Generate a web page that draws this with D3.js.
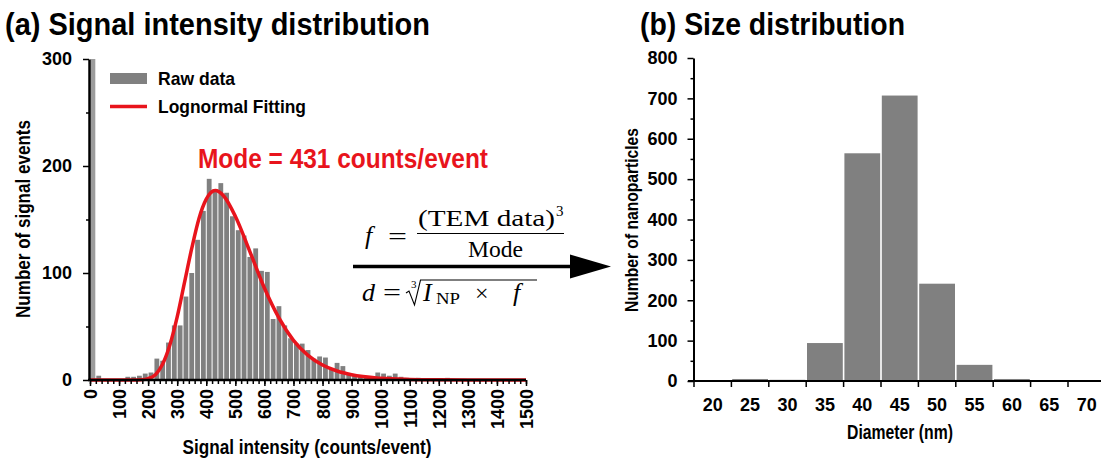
<!DOCTYPE html>
<html>
<head>
<meta charset="utf-8">
<script src="https://cdn.jsdelivr.net/npm/d3@7"></script>
<style>
  body { margin: 0; background: #fff; }
  svg { display: block; }
  text { font-family: 'Liberation Sans Narrow', 'Arial Narrow', 'Liberation Sans', Arial, sans-serif; font-weight: bold; fill: #000; }
  .tick text { font-size: 18px; }
  .title { font-size: 32px; }
  .axis-title { font-size: 19.5px; }
  .legend text { font-size: 19px; }
  .math text { font-family: 'Liberation Serif', 'Times New Roman', serif; font-weight: normal; }
</style>
</head>
<body>
<svg id="fig" width="1101" height="466"></svg>
<script>
// ---- Panel (a): signal intensity histogram (bins of 20 counts/event) ----
const intensityBinWidth = 20;
const intensityCounts = [
  300, 4, 0, 0, 0, 1, 3, 3, 4, 6,
  7, 20, 18, 35, 51, 51, 78, 100, 131, 158,
  188, 178, 184, 175, 153, 140, 135, 115, 123, 102,
  101, 57, 69, 51, 39, 34, 34, 28, 20, 22,
  21, 10, 16, 13, 6, 5, 4, 3, 2, 7,
  6, 4, 6, 3, 2, 1, 2, 1, 1, 1,
  1, 2, 1, 0, 1, 0, 0, 1, 0, 0,
  0, 0, 0, 0, 0
];
// Lognormal fitting curve, sampled along the intensity axis
const fitIntensity = [0, 100, 150, 175, 200, 225, 250, 275, 300, 325, 350, 375, 400, 431, 460, 500, 550, 600, 650, 700, 750, 800, 850, 900, 1000, 1100, 1200, 1300, 1500];
const fitCounts    = [0, 0, 0, 0.2, 1.3, 5, 15, 33, 59, 91, 123, 151, 169, 177, 172, 153, 120, 86, 58, 37, 23, 14, 8.4, 4.9, 1.6, 0.5, 0.15, 0.05, 0];
const modeValue = 431;
const intensityTicks = [0, 100, 200, 300, 400, 500, 600, 700, 800, 900, 1000, 1100, 1200, 1300, 1400, 1500];
const eventTicks = [0, 100, 200, 300];
const eventMinorTicks = [50, 150, 250];

// ---- Panel (b): TEM size distribution ----
const diameterLabels = ["20", "25", "30", "35", "40", "45", "50", "55", "60", "65", "70"];
const particleCounts = [0, 5, 3, 94, 564, 707, 241, 40, 5, 0, 0];
const particleTicks = [0, 100, 200, 300, 400, 500, 600, 700, 800];
const particleMinorTicks = [50, 150, 250, 350, 450, 550, 650, 750];

const GREY = "#808080";
const RED = "#e8141c";

const svg = d3.select("#fig");

function styleAxis(g, domainWidth) {
  g.attr("font-family", null).attr("font-size", null);
  g.select(".domain").attr("stroke", "#000").attr("stroke-width", domainWidth);
  g.selectAll(".tick line").attr("stroke", "#000").attr("stroke-width", 1.5);
}
// squeeze a bold sans label into a condensed run of the given width
function fit(sel, width) {
  return sel.attr("textLength", width).attr("lengthAdjust", "spacingAndGlyphs");
}

// ================= Panel (a) =================
const xA = d3.scaleLinear().domain([0, 1500]).range([90, 526]);
const yA = d3.scaleLinear().domain([0, 300]).range([380, 59]);
const binPx = xA(intensityBinWidth) - xA(0);

const gA = svg.append("g");

gA.append("g").selectAll("rect")
  .data(intensityCounts)
  .join("rect")
  .attr("x", (d, i) => xA(i * intensityBinWidth) + 0.5)
  .attr("width", binPx - 1)
  .attr("y", d => yA(Math.min(d, 300)))
  .attr("height", d => yA(0) - yA(Math.min(d, 300)))
  .attr("fill", (d, i) => i === 0 ? "#9c9c9c" : GREY);

// fitted curve
gA.append("path")
  .datum(fitIntensity.map((x, i) => [x, fitCounts[i]]))
  .attr("fill", "none")
  .attr("stroke", RED)
  .attr("stroke-width", 3.5)
  .attr("stroke-linejoin", "round")
  .attr("d", d3.line().x(d => xA(d[0])).y(d => yA(d[1])).curve(d3.curveMonotoneX));

// y axis
gA.append("g").attr("transform", "translate(89,0)")
  .call(d3.axisLeft(yA).tickValues(eventMinorTicks).tickSize(3).tickSizeOuter(0).tickFormat(""))
  .call(g => { styleAxis(g, 2); g.select(".domain").remove(); });
gA.append("g").attr("transform", "translate(89,0)")
  .call(d3.axisLeft(yA).tickValues(eventTicks).tickSize(6).tickSizeOuter(0).tickPadding(11))
  .call(g => styleAxis(g, 2.5));

// x axis
const minorIntensity = d3.range(0, 1501, intensityBinWidth);
gA.append("g").attr("transform", "translate(0,380)")
  .call(d3.axisBottom(xA).tickValues(minorIntensity).tickSize(4).tickSizeOuter(0).tickFormat(""))
  .call(g => { styleAxis(g, 2); g.select(".domain").remove(); });
gA.append("g").attr("transform", "translate(0,380)")
  .call(d3.axisBottom(xA).tickValues(intensityTicks).tickSize(6).tickSizeOuter(0).tickFormat(d3.format("d")))
  .call(g => {
    styleAxis(g, 2.5);
    g.select(".domain").attr("d", `M88,0H${xA(1500)}`);
    g.selectAll(".tick text")
      .attr("transform", "rotate(-90)")
      .attr("x", -9).attr("y", 0).attr("dy", "0.36em")
      .attr("text-anchor", "end")
      .style("font-size", "18px");
  });

fit(gA.append("text").attr("class", "axis-title")
  .attr("transform", "translate(30,219) rotate(-90)")
  .attr("text-anchor", "middle")
  .text("Number of signal events"), 198);
fit(gA.append("text").attr("class", "axis-title")
  .attr("x", 307).attr("y", 454).attr("text-anchor", "middle")
  .text("Signal intensity (counts/event)"), 249);

fit(gA.append("text").attr("class", "title").attr("x", 5).attr("y", 35)
  .text("(a) Signal intensity distribution"), 425);

// legend
const leg = gA.append("g").attr("class", "legend");
leg.append("rect").attr("x", 110).attr("y", 73).attr("width", 37).attr("height", 11).attr("fill", GREY);
fit(leg.append("text").attr("x", 158).attr("y", 85).text("Raw data"), 77);
leg.append("line").attr("x1", 110).attr("x2", 147).attr("y1", 106.5).attr("y2", 106.5)
  .attr("stroke", RED).attr("stroke-width", 3.5);
fit(leg.append("text").attr("x", 158).attr("y", 113).text("Lognormal Fitting"), 148);

fit(gA.append("text").attr("x", 198).attr("y", 168)
  .style("font-size", "28px").style("fill", RED)
  .text(`Mode = ${modeValue} counts/event`), 290);

// ================= Conversion formula and arrow =================
const m = svg.append("g").attr("class", "math");
m.append("text").attr("x", 365).attr("y", 244).style("font-size", "26px").style("font-style", "italic").text("f");
fit(m.append("text").attr("x", 388).attr("y", 245).style("font-size", "26px").text("="), 19);
fit(m.append("text").attr("x", 418).attr("y", 226).style("font-size", "24px").text("(TEM data)"), 137);
m.append("text").attr("x", 556).attr("y", 216).style("font-size", "15px").text("3");
m.append("line").attr("x1", 417).attr("x2", 564).attr("y1", 233.5).attr("y2", 233.5)
  .attr("stroke", "#000").attr("stroke-width", 1);
fit(m.append("text").attr("x", 468).attr("y", 257).style("font-size", "24px").text("Mode"), 55);

m.append("line").attr("x1", 353).attr("x2", 575).attr("y1", 266.5).attr("y2", 266.5)
  .attr("stroke", "#000").attr("stroke-width", 3.5);
m.append("path").attr("d", "M570,254.5L611,266.5L570,278.5Z").attr("fill", "#000");

m.append("text").attr("x", 362).attr("y", 301).style("font-size", "26px").style("font-style", "italic").text("d");
fit(m.append("text").attr("x", 383).attr("y", 301).style("font-size", "26px").text("="), 18);
m.append("text").attr("x", 411).attr("y", 288).style("font-size", "11px").text("3");
m.append("path").attr("d", "M406,293L409,291L414.5,305L420.5,280H537")
  .attr("fill", "none").attr("stroke", "#000").attr("stroke-width", 1.1);
m.append("text").attr("x", 423).attr("y", 301).style("font-size", "26px").style("font-style", "italic").text("I");
fit(m.append("text").attr("x", 436).attr("y", 304).style("font-size", "17px").text("NP"), 24);
m.append("text").attr("x", 475).attr("y", 301).style("font-size", "24px").text("×");
m.append("text").attr("x", 513).attr("y", 301).style("font-size", "26px").style("font-style", "italic").text("f");

// ================= Panel (b) =================
const xB = d3.scaleBand().domain(diameterLabels).range([694, 1105.4]).padding(0);
const yB = d3.scaleLinear().domain([0, 800]).range([381, 58]);

const gB = svg.append("g");

gB.append("g").selectAll("rect")
  .data(particleCounts)
  .join("rect")
  .attr("x", (d, i) => xB(diameterLabels[i]) + 0.8)
  .attr("width", xB.bandwidth() - 1.6)
  .attr("y", d => yB(d))
  .attr("height", d => yB(0) - yB(d))
  .attr("fill", GREY);

gB.append("g").attr("transform", "translate(693.5,0)")
  .call(d3.axisLeft(yB).tickValues(particleMinorTicks).tickSize(3).tickSizeOuter(0).tickFormat(""))
  .call(g => { styleAxis(g, 2); g.select(".domain").remove(); });
gB.append("g").attr("transform", "translate(693.5,0)")
  .call(d3.axisLeft(yB).tickValues(particleTicks).tickSize(6).tickSizeOuter(0).tickPadding(10))
  .call(g => styleAxis(g, 2));

// x axis: labels centred in each band, ticks on band edges
gB.append("g").attr("transform", "translate(0,381)")
  .call(d3.axisBottom(xB).tickSize(0).tickPadding(17))
  .call(g => {
    styleAxis(g, 2);
    g.select(".domain").attr("d", "M688,0H1101");
  });
gB.append("g").selectAll("line")
  .data(diameterLabels)
  .join("line")
  .attr("x1", d => xB(d)).attr("x2", d => xB(d))
  .attr("y1", 381).attr("y2", 387)
  .attr("stroke", "#000").attr("stroke-width", 1.5);

fit(gB.append("text").attr("class", "axis-title")
  .attr("transform", "translate(638,220) rotate(-90)")
  .attr("text-anchor", "middle")
  .style("font-size", "18px")
  .text("Number of nanoparticles"), 184);
fit(gB.append("text").attr("class", "axis-title")
  .attr("x", 900).attr("y", 439).attr("text-anchor", "middle")
  .text("Diameter (nm)"), 106);

fit(gB.append("text").attr("class", "title").attr("x", 640).attr("y", 35)
  .text("(b) Size distribution"), 265);
</script>
</body>
</html>
